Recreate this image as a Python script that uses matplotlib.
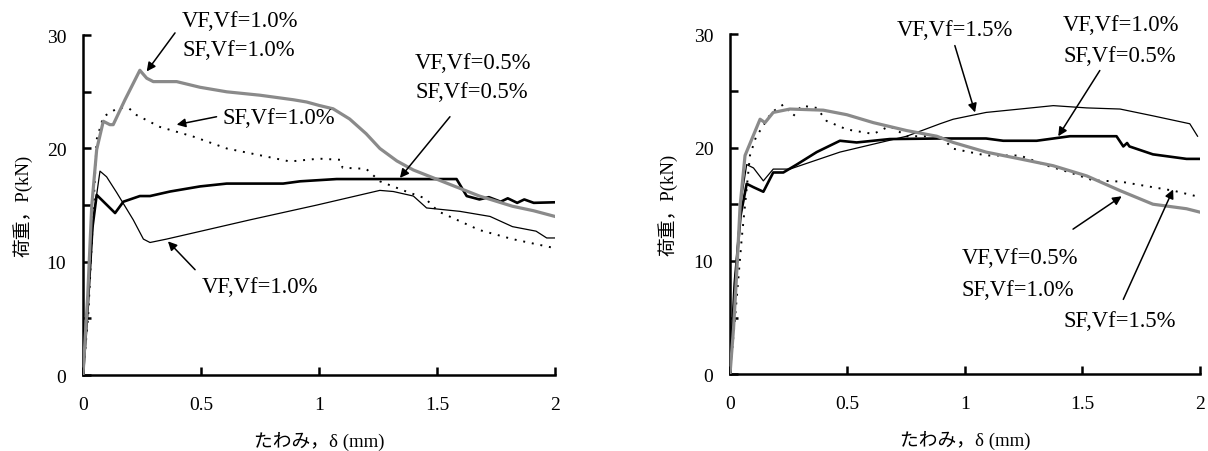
import matplotlib
matplotlib.use("Agg")
import matplotlib.pyplot as plt

plt.rcParams['font.family'] = ['Liberation Serif', 'Noto Sans CJK JP']

# --- 左図 (left panel) ---
left_gray_x = [0, 0.02, 0.037, 0.058, 0.086, 0.114, 0.128, 0.178, 0.241, 0.27, 0.298, 0.397,
               0.496, 0.609, 0.75, 0.891, 0.948, 1.0, 1.06, 1.13, 1.20, 1.258, 1.33, 1.40,
               1.54, 1.68, 1.82, 1.91, 2.0]
left_gray_y = [0, 7, 14.9, 19.9, 22.4, 22.1, 22.1, 24.3, 26.9, 26.2, 25.9, 25.9,
               25.4, 25.0, 24.7, 24.3, 24.1, 23.8, 23.5, 22.6, 21.3, 20.0, 18.9, 18.1,
               16.95, 15.8, 14.9, 14.5, 14.0]

left_dot_x = [0, 0.022, 0.045, 0.058, 0.086, 0.15, 0.192, 0.227, 0.326, 0.467, 0.609, 0.75,
              0.877, 0.95, 1.0, 1.09, 1.10, 1.20, 1.258, 1.37, 1.45, 1.505, 1.68, 1.82, 2.0]
left_dot_y = [0, 5.2, 15, 20.8, 22.8, 23.6, 23.6, 22.95, 21.9, 21.05, 20.0, 19.4,
              18.85, 19.0, 19.1, 19.0, 18.3, 18.2, 17.1, 16.2, 15.6, 14.45, 12.8, 12.0, 11.2]

left_thick_x = [0, 0.02, 0.04, 0.058, 0.136, 0.171, 0.241, 0.284, 0.369, 0.496, 0.609, 0.848,
                0.92, 1.075, 1.583, 1.626, 1.68, 1.72, 1.77, 1.80, 1.84, 1.87, 1.91, 2.0]
left_thick_y = [0, 6, 13, 15.9, 14.3, 15.3, 15.8, 15.8, 16.2, 16.65, 16.9, 16.9,
                17.1, 17.3, 17.3, 15.8, 15.5, 15.7, 15.3, 15.6, 15.2, 15.5, 15.2, 15.25]

left_thin_x = [0, 0.02, 0.045, 0.072, 0.10, 0.143, 0.213, 0.256, 0.284, 0.354, 0.5, 0.708,
               0.99, 1.258, 1.315, 1.40, 1.456, 1.597, 1.725, 1.82, 1.92, 1.965, 2.0]
left_thin_y = [0, 7, 14, 18.0, 17.5, 16.1, 13.7, 12.0, 11.7, 12.0, 12.7, 13.7,
               15.0, 16.3, 16.2, 15.8, 14.75, 14.45, 14.0, 13.1, 12.7, 12.1, 12.1]

# --- 右図 (right panel) ---
right_gray_x = [0, 0.015, 0.028, 0.043, 0.064, 0.092, 0.128, 0.149, 0.184, 0.255, 0.397, 0.497,
                0.61, 0.752, 0.88, 0.95, 1.09, 1.234, 1.375, 1.518, 1.66, 1.80, 1.943, 2.0]
right_gray_y = [0, 4, 8.7, 14.85, 19.3, 20.7, 22.5, 22.2, 23.1, 23.4, 23.3, 22.9,
                22.2, 21.5, 21.0, 20.45, 19.6, 19.0, 18.4, 17.5, 16.2, 15.0, 14.6, 14.3]

right_dot_x = [0, 0.021, 0.05, 0.085, 0.11, 0.177, 0.227, 0.27, 0.305, 0.369, 0.411, 0.497,
               0.61, 0.68, 0.752, 0.894, 0.95, 1.09, 1.234, 1.35, 1.447, 1.546, 1.66, 1.80,
               1.886, 1.986]
right_dot_y = [0, 4.85, 12, 19.3, 20.9, 23.1, 23.8, 22.8, 23.7, 23.5, 22.35, 21.6,
               21.2, 21.9, 21.0, 21.0, 19.9, 19.3, 19.3, 18.4, 17.8, 17.1, 17.0, 16.5,
               16.2, 15.7]

right_thin_x = [0, 0.02, 0.045, 0.071, 0.10, 0.142, 0.184, 0.255, 0.468, 0.61, 0.752, 0.894,
                0.95, 1.09, 1.234, 1.376, 1.518, 1.66, 1.80, 1.957, 1.99]
right_thin_y = [0, 8, 15, 18.5, 18.2, 17.06, 18.1, 18.1, 19.6, 20.3, 21.0, 22.1,
                22.5, 23.1, 23.4, 23.7, 23.5, 23.4, 22.8, 22.1, 21.0]

right_thick_x = [0, 0.02, 0.045, 0.071, 0.10, 0.142, 0.184, 0.227, 0.284, 0.369, 0.468, 0.539,
                 0.68, 0.894, 1.09, 1.163, 1.305, 1.447, 1.645, 1.674, 1.69, 1.70, 1.80, 1.943, 2.0]
right_thick_y = [0, 8, 14, 16.8, 16.5, 16.1, 17.8, 17.8, 18.5, 19.6, 20.6, 20.45,
                 20.75, 20.8, 20.8, 20.6, 20.6, 21.0, 21.0, 20.1, 20.4, 20.1, 19.4, 19.0, 19.0]

x_ticks = [0, 0.5, 1, 1.5, 2]
x_tick_labels = ['0', '0.5', '1', '1.5', '2']
y_ticks = [0, 10, 20, 30]

fig = plt.figure(figsize=(12.08, 4.52), dpi=100)
ax1 = fig.add_axes([0.0687, 0.168, 0.3907, 0.752])
ax2 = fig.add_axes([0.6043, 0.170, 0.389, 0.752])


def style_axes(ax, ylab_x):
    ax.set_xlim(0, 2)
    ax.set_ylim(0, 30)
    for s in ['top', 'right']:
        ax.spines[s].set_visible(False)
    for s in ['left', 'bottom']:
        ax.spines[s].set_linewidth(1.8)
    ax.set_xticks(x_ticks)
    ax.set_xticklabels(x_tick_labels)
    ax.set_yticks(y_ticks)
    ax.set_yticks([5, 15, 25], minor=True)
    ax.tick_params(which='both', direction='in', width=1.8, length=6, labelsize=14)
    ax.tick_params(axis='y', pad=12)
    ax.tick_params(axis='x', pad=15)
    ax.set_xlabel('たわみ，δ (mm)', fontsize=13.5)
    ax.set_ylabel('荷重，P(kN)', fontsize=13.5)
    ax.xaxis.set_label_coords(0.5, -0.165)
    ax.yaxis.set_label_coords(ylab_x, 0.5)


def arrow(ax, head, tail):
    ax.annotate('', xy=head, xytext=tail,
                arrowprops=dict(arrowstyle='-|>', color='black', lw=1.1,
                                mutation_scale=13, shrinkA=0, shrinkB=0),
                annotation_clip=False)


def label(ax, x, y, s):
    ax.text(x, y, s, fontsize=16.3, ha='left', va='center', clip_on=False)


gray = '#8a8a8a'

# left panel
ax1.plot(left_gray_x, left_gray_y, color=gray, lw=2.3, zorder=3)
ax1.plot(left_dot_x, left_dot_y, color='black', lw=1.4, ls=(0, (1, 3.5)))
ax1.plot(left_thick_x, left_thick_y, color='black', lw=1.9)
ax1.plot(left_thin_x, left_thin_y, color='black', lw=0.9)
style_axes(ax1, -0.108)

label(ax1, 0.42, 31.3, 'VF,Vf=1.0%')
label(ax1, 0.42, 28.7, 'SF,Vf=1.0%')
arrow(ax1, (0.27, 26.8), (0.39, 30.2))
label(ax1, 0.593, 22.7, 'SF,Vf=1.0%')
arrow(ax1, (0.397, 22.1), (0.566, 22.8))
label(ax1, 1.407, 27.6, 'VF,Vf=0.5%')
label(ax1, 1.407, 25.0, 'SF,Vf=0.5%')
arrow(ax1, (1.343, 17.4), (1.555, 22.8))
label(ax1, 0.503, 7.85, 'VF,Vf=1.0%')
arrow(ax1, (0.36, 11.8), (0.475, 9.3))

# right panel
ax2.plot(right_gray_x, right_gray_y, color=gray, lw=2.3, zorder=3)
ax2.plot(right_dot_x, right_dot_y, color='black', lw=1.4, ls=(0, (1, 3.5)))
ax2.plot(right_thick_x, right_thick_y, color='black', lw=1.9)
ax2.plot(right_thin_x, right_thin_y, color='black', lw=0.9)
style_axes(ax2, -0.112)

label(ax2, 0.71, 30.4, 'VF,Vf=1.5%')
arrow(ax2, (1.043, 23.1), (0.957, 29.0))
label(ax2, 1.418, 30.9, 'VF,Vf=1.0%')
label(ax2, 1.418, 28.1, 'SF,Vf=0.5%')
arrow(ax2, (1.397, 21.0), (1.574, 26.8))
label(ax2, 0.986, 10.3, 'VF,Vf=0.5%')
label(ax2, 0.986, 7.5, 'SF,Vf=1.0%')
arrow(ax2, (1.667, 15.7), (1.46, 12.8))
label(ax2, 1.418, 4.7, 'SF,Vf=1.5%')
arrow(ax2, (1.886, 16.3), (1.674, 6.6))

fig.savefig('out.png', dpi=100)
